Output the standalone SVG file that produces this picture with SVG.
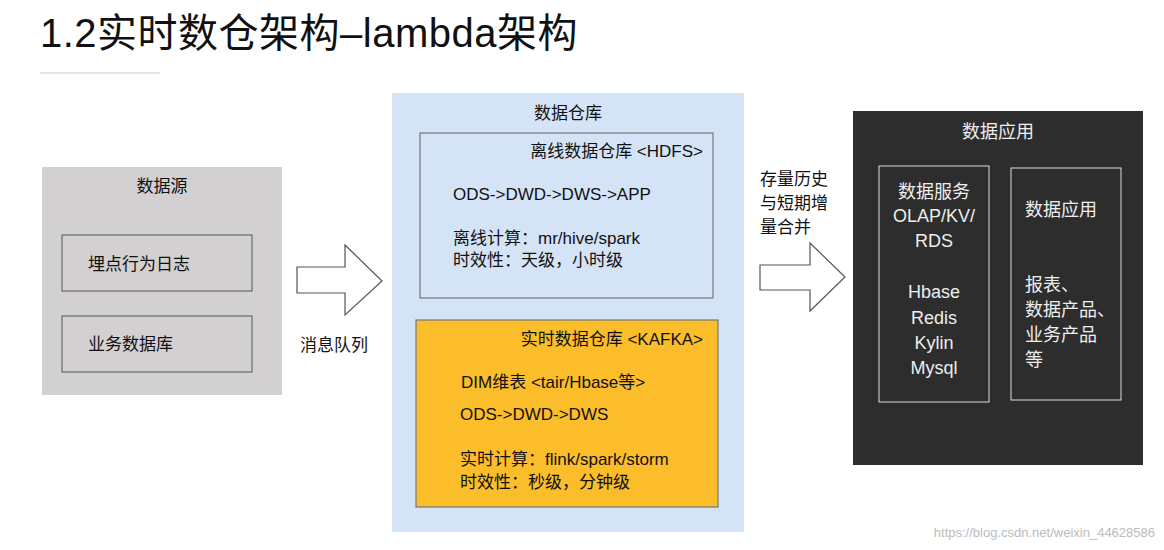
<svg xmlns="http://www.w3.org/2000/svg" width="1164" height="550" viewBox="0 0 1164 550">
<style>
text{font-family:"Liberation Sans","Noto Sans CJK SC",sans-serif;fill:#111}
.t{font-size:17px}
.w{fill:#eee;font-size:18px}
.arrow{fill:#fff;stroke:#555;stroke-width:1.2}
</style>
<rect width="1164" height="550" fill="#fff"/>
<text x="40" y="47" font-size="40" letter-spacing="0.5">1.2实时数仓架构–lambda架构</text>
<line x1="40" y1="73" x2="160" y2="73" stroke="#e6e6e6" stroke-width="2"/>
<g id="source">
<rect x="42" y="167" width="240" height="228" fill="#d3d0d1"/>
<text x="162" y="192" class="t" text-anchor="middle">数据源</text>
<rect x="62" y="235" width="190" height="56" fill="none" stroke="#555"/>
<text x="88" y="270" class="t">埋点行为日志</text>
<rect x="62" y="316" width="190" height="56" fill="none" stroke="#555"/>
<text x="88" y="350" class="t">业务数据库</text>
</g>
<g id="connectors">
<polygon class="arrow" points="297,267 345,267 345,245 382,281 345,315 345,293 297,293"/>
<polygon class="arrow" points="760,265 810,265 810,243 845,277 810,311 810,290 760,290"/>
</g>
<text x="300" y="351" class="t">消息队列</text>
<text x="760" y="185" class="t">存量历史</text>
<text x="760" y="209" class="t">与短期增</text>
<text x="760" y="233" class="t">量合并</text>
<g id="warehouse">
<rect x="392" y="93" width="352" height="439" fill="#d5e3f6"/>
<text x="568" y="119" class="t" text-anchor="middle">数据仓库</text>
<rect x="420" y="133" width="293" height="165" fill="none" stroke="#777" stroke-width="1.2"/>
<text x="703" y="157" class="t" text-anchor="end">离线数据仓库 &lt;HDFS&gt;</text>
<text x="453" y="200" class="t">ODS-&gt;DWD-&gt;DWS-&gt;APP</text>
<text x="453" y="244" class="t">离线计算：mr/hive/spark</text>
<text x="453" y="266" class="t">时效性：天级，小时级</text>
<rect x="416" y="320" width="302" height="187" fill="#fbbd2a" stroke="#777" stroke-width="1.2"/>
<text x="703" y="345" class="t" text-anchor="end">实时数据仓库 &lt;KAFKA&gt;</text>
<text x="461" y="388" class="t">DIM维表 &lt;tair/Hbase等&gt;</text>
<text x="460" y="420" class="t">ODS-&gt;DWD-&gt;DWS</text>
<text x="460" y="465" class="t">实时计算：flink/spark/storm</text>
<text x="460" y="488" class="t">时效性：秒级，分钟级</text>
</g>
<g id="app">
<rect x="853" y="111" width="290" height="354" fill="#2d2d2d"/>
<text x="998" y="138" class="w" text-anchor="middle">数据应用</text>
<rect x="879" y="166" width="110" height="236" fill="none" stroke="#ddd"/>
<text x="934" y="198" class="w" text-anchor="middle">数据服务</text>
<text x="934" y="222" class="w" text-anchor="middle">OLAP/KV/</text>
<text x="934" y="247" class="w" text-anchor="middle">RDS</text>
<text x="934" y="298" class="w" text-anchor="middle">Hbase</text>
<text x="934" y="324" class="w" text-anchor="middle">Redis</text>
<text x="934" y="349" class="w" text-anchor="middle">Kylin</text>
<text x="934" y="374" class="w" text-anchor="middle">Mysql</text>
<rect x="1011" y="168" width="110" height="232" fill="none" stroke="#ddd"/>
<text x="1025" y="216" class="w">数据应用</text>
<text x="1025" y="291" class="w">报表、</text>
<text x="1025" y="316" class="w">数据产品、</text>
<text x="1025" y="341" class="w">业务产品</text>
<text x="1025" y="366" class="w">等</text>
</g>
<text x="1155" y="537" font-size="13" style="fill:#bbb" text-anchor="end">https://blog.csdn.net/weixin_44628586</text>
</svg>
